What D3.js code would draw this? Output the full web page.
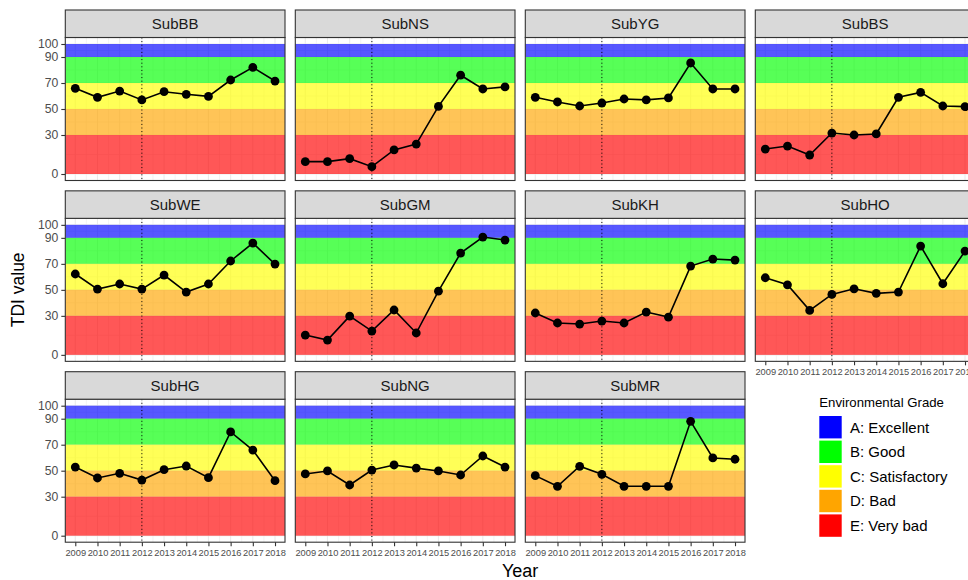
<!DOCTYPE html>
<html>
<head>
<meta charset="utf-8">
<script src="https://cdn.jsdelivr.net/npm/d3@7"></script>
<style>
  html, body { margin: 0; padding: 0; background: #ffffff; }
  svg { display: block; font-family: "Liberation Sans", Arial, sans-serif; }
</style>
</head>
<body>
<svg id="chart" width="968" height="580"></svg>
<script>
// ---- data -------------------------------------------------------------
const years = [2009, 2010, 2011, 2012, 2013, 2014, 2015, 2016, 2017, 2018];
const stations = ["SubBB", "SubNS", "SubYG", "SubBS", "SubWE", "SubGM",
                  "SubKH", "SubHO", "SubHG", "SubNG", "SubMR"];

const subBB = [65.9, 59.0, 63.8, 57.0, 63.3, 61.3, 59.7, 72.3, 82.0, 71.5];
const subNS = [9.5, 9.5, 11.8, 5.6, 18.5, 23.0, 52.0, 76.0, 65.4, 67.0];
const subYG = [59.0, 55.4, 52.3, 54.6, 57.7, 57.0, 58.5, 85.4, 65.4, 65.4];
const subBS = [19.2, 21.5, 14.6, 31.5, 30.0, 30.8, 59.0, 62.8, 52.3, 51.8];
const subWE = [62.2, 50.6, 54.5, 50.6, 61.4, 48.3, 54.5, 72.2, 86.0, 69.8];
const subGM = [15.2, 11.4, 29.8, 18.3, 34.5, 16.8, 49.0, 78.3, 90.6, 88.3];
const subKH = [32.2, 24.5, 23.7, 26.0, 24.5, 32.9, 29.0, 68.3, 73.7, 72.9];
const subHO = [59.3, 53.9, 34.2, 46.5, 50.8, 47.3, 48.3, 83.7, 54.7, 79.8];
const subHG = [52.8, 44.4, 48.0, 42.8, 50.8, 53.6, 44.6, 79.8, 65.9, 42.3];
const subNG = [47.5, 49.8, 39.0, 50.5, 54.4, 52.0, 49.8, 46.7, 61.3, 52.8];
const subMR = [46.2, 38.0, 53.4, 47.2, 38.0, 38.0, 38.0, 88.0, 59.8, 58.8];

const seriesByStation = {
  SubBB: subBB, SubNS: subNS, SubYG: subYG, SubBS: subBS,
  SubWE: subWE, SubGM: subGM, SubKH: subKH, SubHO: subHO,
  SubHG: subHG, SubNG: subNG, SubMR: subMR
};

const yTicks = [0, 30, 50, 70, 90, 100];
const refYear = 2012;

const gradeLabels = ["A: Excellent", "B: Good", "C: Satisfactory", "D: Bad", "E: Very bad"];
const gradeLower  = [90, 70, 50, 30, 0];
const gradeUpper  = [100, 90, 70, 50, 30];
const gradeColors = ["#0000FF", "#00FF00", "#FFFF00", "#FFA500", "#FF0000"];

// ---- layout -----------------------------------------------------------
const W = 968, H = 580;
const nCol = 4;
const panelLeft0 = 65.3, colPitch = 230, panelW = 219.7;
const panelTop0 = 37.5, rowPitch = 180.85, panelH = 143;
const stripH = 27.5;

const svg = d3.select("#chart");
svg.append("rect").attr("width", W).attr("height", H).attr("fill", "#ffffff");

const x = d3.scaleLinear().domain([2008.55, 2018.45]).range([0, panelW]);
const y = d3.scaleLinear().domain([-5, 105]).range([panelH, 0]);

// minor breaks half-way between majors
const xMinor = d3.range(2009.5, 2018, 1);
const yMinor = [15, 40, 60, 80, 95];

const grades = gradeLabels.map((g, i) => ({
  label: g, lo: gradeLower[i], hi: gradeUpper[i], color: gradeColors[i]
}));

const nStations = stations.length;
const lastRow = Math.floor((nStations - 1) / nCol);

stations.forEach((name, i) => {
  const col = i % nCol, row = Math.floor(i / nCol);
  const px = panelLeft0 + col * colPitch;
  const py = panelTop0 + row * rowPitch;
  const g = svg.append("g").attr("transform", `translate(${px},${py})`);

  // grid
  const grid = g.append("g");
  grid.selectAll("line.xmin").data(xMinor).join("line")
    .attr("x1", d => x(d)).attr("x2", d => x(d))
    .attr("y1", 0).attr("y2", panelH)
    .attr("stroke", "#EBEBEB").attr("stroke-width", 0.6);
  grid.selectAll("line.ymin").data(yMinor).join("line")
    .attr("x1", 0).attr("x2", panelW)
    .attr("y1", d => y(d)).attr("y2", d => y(d))
    .attr("stroke", "#EBEBEB").attr("stroke-width", 0.6);
  grid.selectAll("line.xmaj").data(years).join("line")
    .attr("x1", d => x(d)).attr("x2", d => x(d))
    .attr("y1", 0).attr("y2", panelH)
    .attr("stroke", "#EBEBEB").attr("stroke-width", 1.1);
  grid.selectAll("line.ymaj").data(yTicks).join("line")
    .attr("x1", 0).attr("x2", panelW)
    .attr("y1", d => y(d)).attr("y2", d => y(d))
    .attr("stroke", "#EBEBEB").attr("stroke-width", 1.1);

  // grade bands
  g.selectAll("rect.band").data(grades).join("rect")
    .attr("x", 0).attr("width", panelW)
    .attr("y", d => y(d.hi)).attr("height", d => y(d.lo) - y(d.hi))
    .attr("fill", d => d.color).attr("fill-opacity", 0.66);

  // reference year
  g.append("line")
    .attr("x1", x(refYear)).attr("x2", x(refYear))
    .attr("y1", 0).attr("y2", panelH)
    .attr("stroke", "#000").attr("stroke-width", 1)
    .attr("stroke-dasharray", "1,2.6");

  // series
  const vals = seriesByStation[name];
  const pts = years.map((yr, k) => ({ yr, v: vals[k] }));
  g.append("path").datum(pts)
    .attr("d", d3.line().x(d => x(d.yr)).y(d => y(d.v)))
    .attr("fill", "none").attr("stroke", "#000").attr("stroke-width", 1.6);
  g.selectAll("circle.pt").data(pts).join("circle")
    .attr("cx", d => x(d.yr)).attr("cy", d => y(d.v))
    .attr("r", 4.4).attr("fill", "#000");

  // panel border
  g.append("rect").attr("x", 0).attr("y", 0)
    .attr("width", panelW).attr("height", panelH)
    .attr("fill", "none").attr("stroke", "#333333").attr("stroke-width", 1.1);

  // strip
  g.append("rect").attr("x", 0).attr("y", -stripH)
    .attr("width", panelW).attr("height", stripH)
    .attr("fill", "#D9D9D9").attr("stroke", "#333333").attr("stroke-width", 1.1);
  g.append("text")
    .attr("x", panelW / 2).attr("y", -stripH / 2)
    .attr("text-anchor", "middle").attr("dominant-baseline", "central")
    .attr("font-size", 15).attr("fill", "#1A1A1A")
    .text(name);

  // y axis on first column
  if (col === 0) {
    const ay = g.append("g")
      .call(d3.axisLeft(y).tickValues(yTicks).tickSize(4).tickPadding(3));
    ay.select(".domain").remove();
    ay.selectAll(".tick line").attr("stroke", "#333333").attr("stroke-width", 1.1);
    ay.selectAll(".tick text").attr("font-size", 12.2).attr("fill", "#4D4D4D")
      .attr("font-family", "Liberation Sans, Arial, sans-serif");
  }

  // x axis where no panel sits below
  if (i + nCol >= nStations) {
    const ax = g.append("g").attr("transform", `translate(0,${panelH})`)
      .call(d3.axisBottom(x).tickValues(years).tickFormat(d3.format("d"))
        .tickSize(4).tickPadding(3));
    ax.select(".domain").remove();
    ax.selectAll(".tick line").attr("stroke", "#333333").attr("stroke-width", 1.1);
    ax.selectAll(".tick text").attr("font-size", 9.3).attr("fill", "#4D4D4D")
      .attr("font-family", "Liberation Sans, Arial, sans-serif");
  }
});

// axis titles
const plotLeft = panelLeft0;
const plotRight = panelLeft0 + (nCol - 1) * colPitch + panelW;
const plotTop = panelTop0;
const plotBottom = panelTop0 + lastRow * rowPitch + panelH;

svg.append("text")
  .attr("x", (plotLeft + plotRight) / 2).attr("y", 577)
  .attr("text-anchor", "middle").attr("font-size", 18).attr("fill", "#000")
  .text("Year");

svg.append("text")
  .attr("transform", `translate(24,${(plotTop + plotBottom) / 2}) rotate(-90)`)
  .attr("text-anchor", "middle").attr("font-size", 17.5).attr("fill", "#000")
  .text("TDI value");

// legend
const legX = 819.3, legTitleY = 407, keyTop = 416, keyPitch = 24.6, keySize = 22.4;
const leg = svg.append("g");
leg.append("text").attr("x", legX).attr("y", legTitleY)
  .attr("font-size", 13.2).attr("fill", "#000").text("Environmental Grade");
const items = leg.selectAll("g.item").data(grades).join("g")
  .attr("transform", (d, k) => `translate(${legX},${keyTop + k * keyPitch})`);
items.append("rect").attr("width", keySize).attr("height", keySize)
  .attr("fill", d => d.color);
items.append("text").attr("x", 30.7).attr("y", keySize / 2)
  .attr("dominant-baseline", "central").attr("font-size", 15).attr("fill", "#000")
  .text(d => d.label);
</script>
</body>
</html>
